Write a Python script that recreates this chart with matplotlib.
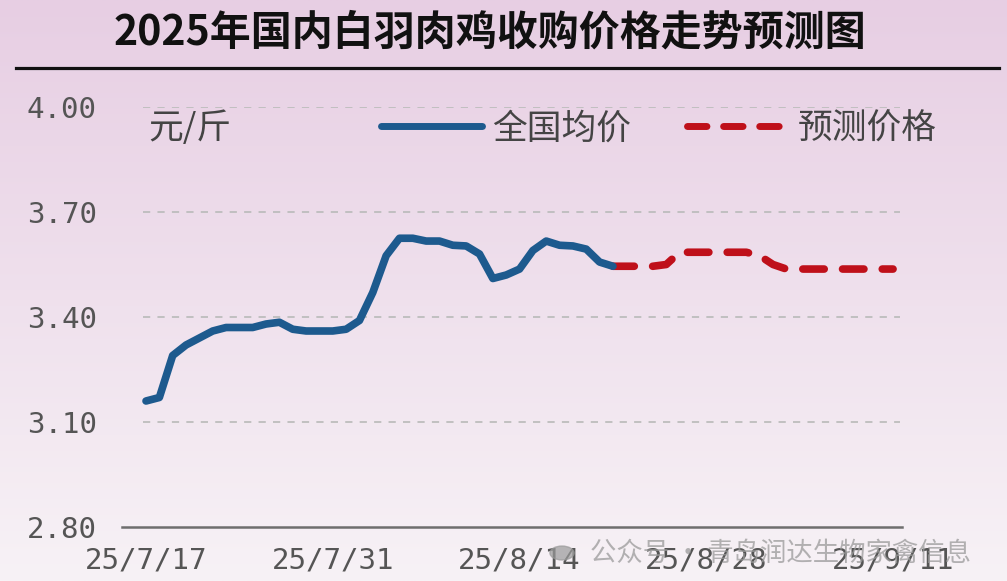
import numpy as np
import pandas as pd
import matplotlib
matplotlib.use('Agg')
import matplotlib.pyplot as plt
import matplotlib.dates as mdates
from matplotlib.lines import Line2D
from matplotlib.patches import Circle

plt.rcParams['font.family'] = ['Noto Sans CJK SC', 'DejaVu Sans']

# data
title = '2025年国内白羽肉鸡收购价格走势预测图'
unit_label = '元/斤'
series_names = ['全国均价', '预测价格']
actual_start = '2025-07-17'
actual_prices = [3.16, 3.17, 3.29, 3.32, 3.34, 3.36, 3.37, 3.37, 3.37, 3.38,
                 3.385, 3.365, 3.36, 3.36, 3.36, 3.365, 3.39, 3.47, 3.575, 3.625,
                 3.625, 3.617, 3.617, 3.605, 3.603, 3.58, 3.51, 3.52, 3.537, 3.59,
                 3.617, 3.605, 3.603, 3.594, 3.557, 3.545]
forecast_start = '2025-08-21'
forecast_prices = [3.545, 3.545, 3.545, 3.545, 3.55, 3.585, 3.585, 3.585, 3.585,
                   3.585, 3.585, 3.575, 3.55, 3.537, 3.537, 3.537, 3.537, 3.537,
                   3.537, 3.537, 3.537, 3.537]
tick_dates = ['2025-07-17', '2025-07-31', '2025-08-14', '2025-08-28', '2025-09-11']
tick_labels = ['25/7/17', '25/7/31', '25/8/14', '25/8/28', '25/9/11']
y_ticks = [2.80, 3.10, 3.40, 3.70, 4.00]
watermark = '公众号 · 青岛润达生物家禽信息'

blue = '#1d5a8e'
red = '#bf101a'

actual_dates = pd.date_range(actual_start, periods=len(actual_prices), freq='D')
forecast_dates = pd.date_range(forecast_start, periods=len(forecast_prices), freq='D')

fig = plt.figure(figsize=(10.07, 5.81), dpi=100)

# pink gradient background
bg = fig.add_axes([0, 0, 1, 1], zorder=-5)
grad = np.linspace(0, 1, 256)[:, None]
top_c = np.array([231, 206, 227]) / 255
bot_c = np.array([247, 242, 246]) / 255
img = top_c * (1 - grad[..., None]) + bot_c * grad[..., None]
img = np.repeat(img, 2, axis=1)
bg.imshow(img, aspect='auto', extent=[0, 1, 0, 1])
bg.axis('off')

ax = fig.add_axes([122 / 1007, 1 - 527 / 581, 780 / 1007, 420 / 581])
ax.patch.set_alpha(0)

x0 = mdates.date2num(actual_dates[0])
x1 = mdates.date2num(forecast_dates[-1])
ax.set_xlim(x0 - 1.8, x1 + 0.67)
ax.set_ylim(y_ticks[0], y_ticks[-1])

ax.hlines(y_ticks[1:], x0 - 0.2, x1 + 0.5, colors='#bdbdbd', linewidth=1.3,
          linestyles=(0, (4, 4)), zorder=1)

l1, = ax.plot(actual_dates, actual_prices, color=blue, linewidth=5.5,
              solid_capstyle='round', solid_joinstyle='round', zorder=4,
              label=series_names[0])
l2, = ax.plot(forecast_dates, forecast_prices, color=red, linewidth=5.5,
              dash_capstyle='round', dashes=(2.8, 2.4), zorder=3,
              label=series_names[1])

for s in ['top', 'right', 'left']:
    ax.spines[s].set_visible(False)
ax.spines['bottom'].set_color('#6e6e6e')
ax.spines['bottom'].set_linewidth(1.8)

ax.set_yticks(y_ticks)
ax.set_yticklabels([f'{v:.2f}' for v in y_ticks], family='DejaVu Sans Mono',
                   fontsize=21, color='#555555')
ax.set_xticks(mdates.date2num(pd.to_datetime(tick_dates)))
ax.set_xticklabels(tick_labels, family='DejaVu Sans Mono', fontsize=21,
                   color='#555555')
ax.tick_params(axis='y', length=0, pad=18)
ax.tick_params(axis='x', length=0, pad=14)

# unit and legend
fig.text(148 / 1007, 1 - 128 / 581, unit_label, fontsize=25, color='#444444',
         ha='left', va='center')
h2 = Line2D([], [], color=red, linewidth=5, dash_capstyle='round', dashes=(2.8, 2.4))
h1 = Line2D([], [], color=blue, linewidth=5, solid_capstyle='round')
fig.legend([h1, h2], series_names, loc='center left',
           bbox_to_anchor=(381 / 1007, 1 - 129 / 581), ncol=2, frameon=False,
           fontsize=25, labelcolor='#444444', handlelength=2.9, handletextpad=0.3,
           columnspacing=1.6, borderpad=0, borderaxespad=0)

# title and rule
fig.text(490 / 1007, 1 - 32 / 581, title, fontsize=29.5, fontweight='bold',
         color='#111111', ha='center', va='center')
fig.add_artist(Line2D([16 / 1007, 999 / 1007], [1 - 68 / 581, 1 - 68 / 581],
                      color='#111111', linewidth=2.3))

# watermark (overlaps the date labels, as in the source image)
fig.add_artist(Circle((562 / 1007, 1 - 553 / 581), 0.012, transform=fig.transFigure,
                      color='#9a9a9a', alpha=0.7, zorder=10))
fig.text(590 / 1007, 1 - 553 / 581, watermark, fontsize=19, color='#9a9a9a',
         alpha=0.75, ha='left', va='center', zorder=10)

fig.savefig('out.png', dpi=100)
